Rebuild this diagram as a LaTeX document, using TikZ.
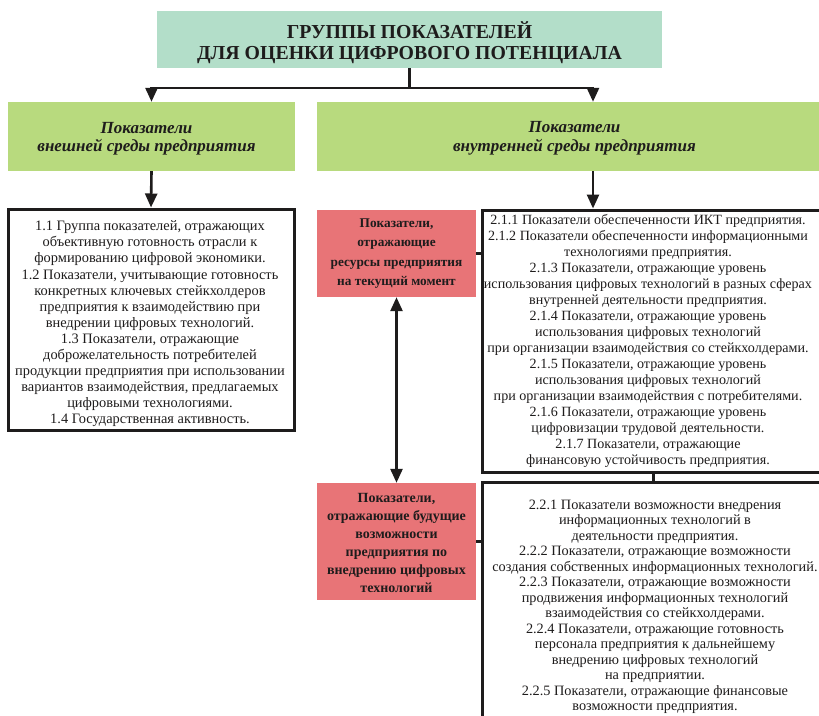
\documentclass[tikz,border=0pt]{standalone}
\usepackage{fontspec}
\setmainfont{Liberation Serif}
\usetikzlibrary{arrows.meta}

\definecolor{titlefill}{RGB}{179,222,201}
\definecolor{groupfill}{RGB}{184,218,126}
\definecolor{redfill}{RGB}{232,116,119}
\definecolor{ink}{RGB}{30,28,28}

\tikzset{
  box/.style={draw=ink, line width=3pt, fill=white, inner sep=0pt},
  fillbox/.style={draw=none, inner sep=0pt},
  txt/.style={align=center, inner sep=0pt, text=ink},
  arr/.style={draw=ink, line width=2.6pt, -{Triangle[width=12pt,length=14pt]}},
  dblarr/.style={draw=ink, line width=2.6pt, {Triangle[width=12pt,length=14pt]}-{Triangle[width=12pt,length=14pt]}},
  link/.style={draw=ink, line width=3pt},
}

\begin{document}
\begin{tikzpicture}[x=1pt,y=-1pt]
\useasboundingbox (0,0) rectangle (819,715);
\clip (0,0) rectangle (819,715);
\fill[white] (0,0) rectangle (819,715);

% heading
\node[fillbox, fill=titlefill, minimum width=505pt, minimum height=57pt] (title) at (409.5,39.5) {};
\node[txt, font=\fontsize{19.8}{21}\selectfont\bfseries] (titletext) at (409.5,43)
  {ГРУППЫ ПОКАЗАТЕЛЕЙ\\ДЛЯ ОЦЕНКИ ЦИФРОВОГО ПОТЕНЦИАЛА};

% two groups
\node[fillbox, fill=groupfill, minimum width=287pt, minimum height=69pt] (ext) at (151.5,136.5) {};
\node[txt, font=\fontsize{17}{18.5}\selectfont\bfseries\itshape] (exttext) at (146.5,138.5)
  {Показатели\\внешней среды предприятия};
\node[fillbox, fill=groupfill, minimum width=552pt, minimum height=69pt] (int) at (593,136.5) {};
\node[txt, font=\fontsize{17}{18.5}\selectfont\bfseries\itshape] (inttext) at (574.5,138.5)
  {Показатели\\внутренней среды предприятия};

% external indicators
\node[box, minimum width=286pt, minimum height=221pt] (extlist) at (151,319.5) {};
\node[txt, font=\fontsize{14.4}{16.1}\selectfont] (extlisttext) at (150,324)
  {1.1 Группа показателей, отражающих\\
   объективную готовность отрасли к\\
   формированию цифровой экономики.\\
   1.2 Показатели, учитывающие готовность\\
   конкретных ключевых стейкхолдеров\\
   предприятия к взаимодействию при\\
   внедрении цифровых технологий.\\
   1.3 Показатели, отражающие\\
   доброжелательность потребителей\\
   продукции предприятия при использовании\\
   вариантов взаимодействия, предлагаемых\\
   цифровыми технологиями.\\
   1.4 Государственная активность.};

% current resources
\node[fillbox, fill=redfill, minimum width=159pt, minimum height=87pt] (now) at (396.5,253.5) {};
\node[txt, font=\fontsize{13.3}{19.5}\selectfont\bfseries] (nowtext) at (396.5,253.5)
  {Показатели,\\отражающие\\ресурсы предприятия\\на текущий момент};
\node[box, minimum width=408pt, minimum height=262pt] (nowlist) at (686,341) {};
\node[txt, font=\fontsize{14.1}{16}\selectfont] (nowlisttext) at (648,341)
  {2.1.1 Показатели обеспеченности ИКТ предприятия.\\
   2.1.2 Показатели обеспеченности информационными\\
   технологиями предприятия.\\
   2.1.3 Показатели, отражающие уровень\\
   использования цифровых технологий в разных сферах\\
   внутренней деятельности предприятия.\\
   2.1.4 Показатели, отражающие уровень\\
   использования цифровых технологий\\
   при организации взаимодействия со стейкхолдерами.\\
   2.1.5 Показатели, отражающие уровень\\
   использования цифровых технологий\\
   при организации взаимодействия с потребителями.\\
   2.1.6 Показатели, отражающие уровень\\
   цифровизации трудовой деятельности.\\
   2.1.7 Показатели, отражающие\\
   финансовую устойчивость предприятия.};

% future possibilities
\node[fillbox, fill=redfill, minimum width=159pt, minimum height=117pt] (future) at (396.5,541.5) {};
\node[txt, font=\fontsize{14}{18}\selectfont\bfseries] (futuretext) at (396.5,543)
  {Показатели,\\отражающие будущие\\возможности\\предприятия по\\внедрению цифровых\\технологий};
\node[box, minimum width=408pt, minimum height=260pt] (futurelist) at (686,612) {};
\node[txt, font=\fontsize{14.3}{15.5}\selectfont] (futurelisttext) at (655,607)
  {2.2.1 Показатели возможности внедрения\\
   информационных технологий в\\
   деятельности предприятия.\\
   2.2.2 Показатели, отражающие возможности\\
   создания собственных информационных технологий.\\
   2.2.3 Показатели, отражающие возможности\\
   продвижения информационных технологий\\
   взаимодействия со стейкхолдерами.\\
   2.2.4 Показатели, отражающие готовность\\
   персонала предприятия к дальнейшему\\
   внедрению цифровых технологий\\
   на предприятии.\\
   2.2.5 Показатели, отражающие финансовые\\
   возможности предприятия.};

% connectors
\coordinate (fork) at (title.south |- 0,88);
\draw[link, line width=2.6pt] (title.south) -- (fork);
\draw[arr] (fork) -| (ext.north);
\draw[arr] (fork) -| (int.north);
\draw[arr] (ext.south) -- (extlist.north);
\draw[arr] (int.south) -- (nowlist.north -| int.south);
\draw[link] (now.east) -- (now.east -| nowlist.west);
\draw[link] (future.east) -- (future.east -| futurelist.west);
\draw[link] (nowlist.south -| 653,0) -- (futurelist.north -| 653,0);
\draw[dblarr] (now.south) -- (future.north);
\end{tikzpicture}
\end{document}
